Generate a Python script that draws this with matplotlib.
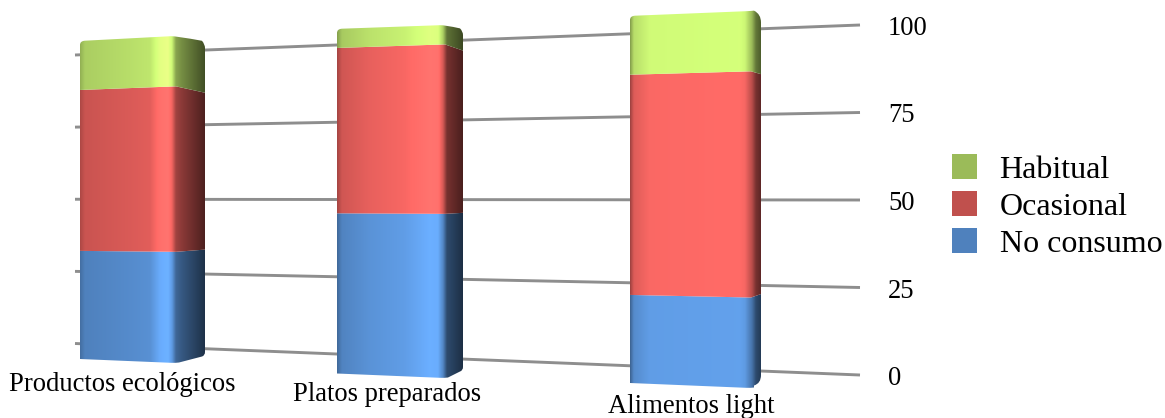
"""Stacked bars in a perspective view, food consumption habits."""

import numpy as np
import matplotlib
matplotlib.use('Agg')
import matplotlib.pyplot as plt
from matplotlib.patches import PathPatch, Rectangle
from matplotlib.path import Path

categories = ['Productos ecológicos', 'Platos preparados', 'Alimentos light']
no_consumo = [34, 46.5, 24]
ocasional = [50.6, 48, 60]
habitual = [15.4, 5.5, 16]
series_names = ['No consumo', 'Ocasional', 'Habitual']
tick_values = [0, 25, 50, 75, 100]

base_colors = {'No consumo': (79, 129, 189),
               'Ocasional': (192, 80, 77),
               'Habitual': (155, 187, 89)}

plt.rcParams['font.family'] = ['Liberation Serif', 'DejaVu Serif']

# corners of each box on the canvas: x left/ridge/right, then y at value 0 and 100
boxes = [
    dict(x=(80, 176, 205), y0=(359, 363, 355), y100=(41, 36, 45), radius=3),
    dict(x=(337, 445, 463), y0=(373.5, 378, 370), y100=(29, 25, 32), radius=3),
    dict(x=(630, 751, 761), y0=(383, 388, 382), y100=(16, 11, 15.5), radius=7),
]

# horizontal shading of each box, (x, brightness) pairs
shading = [
    [(80, 0.85), (85, 1.0), (130, 1.08), (150, 1.12), (160, 1.33), (168, 1.38),
     (172, 1.2), (176, 0.8), (181, 0.7), (205, 0.38)],
    [(337, 0.8), (342, 1.02), (370, 1.14), (405, 1.22), (430, 1.36), (438, 1.34),
     (443, 1.05), (447, 0.58), (463, 0.36)],
    [(630, 0.75), (634, 1.08), (650, 1.22), (740, 1.25), (745, 1.2), (752, 0.9),
     (756, 0.58), (761, 0.45)],
]

# light falls off towards the bottom, so upper segments get a gain per box
segment_gain = [
    [1.0, 1.05, 1.1],
    [1.0, 1.06, 1.06],
    [1.0, 1.07, 1.1],
]

# back wall of the chart
wall_left = (75, 343.5, 55)
wall_right = (860, 375, 25)


def value_y(v, y0, y100):
    return y0 + (y100 - y0) * v / 100


def segment_path(box, v_low, v_high, round_top, round_bottom):
    xs = box['x']
    low = [value_y(v_low, a, b) for a, b in zip(box['y0'], box['y100'])]
    high = [value_y(v_high, a, b) for a, b in zip(box['y0'], box['y100'])]
    r = box['radius']
    verts = [(xs[0], low[0])]
    codes = [Path.MOVETO]

    # left edge going up
    if round_top:
        verts += [(xs[0], high[0] + 4), (xs[0], high[0]), (xs[0] + 5, high[0] - 0.3)]
        codes += [Path.LINETO, Path.CURVE3, Path.CURVE3]
    else:
        verts.append((xs[0], high[0]))
        codes.append(Path.LINETO)

    # top edge, left to right
    if round_top:
        verts += [(xs[1] - 5, high[1] + 0.2), (xs[1], high[1]), (xs[2] - r, high[2] - r * 0.5 + (high[1] - high[2]) * 0.3)]
        codes += [Path.LINETO, Path.CURVE3, Path.CURVE3]
        verts += [(xs[2], high[2] - r * 0.2), (xs[2], high[2] + r)]
        codes += [Path.CURVE3, Path.CURVE3]
    else:
        verts += [(xs[1], high[1]), (xs[2], high[2])]
        codes += [Path.LINETO, Path.LINETO]

    # right edge going down, then the bottom edge back
    if round_bottom:
        verts += [(xs[2], low[2] - r), (xs[2], low[2] + r * 0.2), (xs[2] - r, low[2] + r * 0.5)]
        codes += [Path.LINETO, Path.CURVE3, Path.CURVE3]
        verts += [(xs[1] + 3, low[1] - 0.5), (xs[1], low[1]), (xs[1] - 5, low[1] - 0.2)]
        codes += [Path.LINETO, Path.CURVE3, Path.CURVE3]
    else:
        verts += [(xs[2], low[2]), (xs[1], low[1])]
        codes += [Path.LINETO, Path.LINETO]

    verts.append((xs[0], low[0]))
    codes.append(Path.CLOSEPOLY)
    return Path(verts, codes)


fig = plt.figure(figsize=(11.65, 4.18), dpi=100)
ax = fig.add_axes([0, 0, 1, 1])

for v in tick_values:
    ax.plot([wall_left[0], wall_right[0]],
            [value_y(v, wall_left[1], wall_left[2]), value_y(v, wall_right[1], wall_right[2])],
            color='#8e8e8e', lw=2.1, zorder=1, solid_capstyle='butt')
    ax.text(888, value_y(v, wall_right[1], wall_right[2]) + 3.5, str(v),
            fontsize=19.2, ha='left', va='center', color='black')

stacks = [no_consumo, ocasional, habitual]
for i, box in enumerate(boxes):
    left, right = box['x'][0], box['x'][2]
    columns = np.arange(left, right + 1) + 0.5
    px, factor = zip(*shading[i])
    brightness = np.interp(columns, px, factor)

    bottom = 0
    for j, name in enumerate(series_names):
        top = bottom + stacks[j][i]
        shade = brightness * segment_gain[i][j]
        gradient = np.clip(np.outer(shade, base_colors[name]) / 255, 0, 1)[np.newaxis, :, :]
        im = ax.imshow(gradient, extent=(left, right + 1, 400, 0), aspect='auto',
                       interpolation='bilinear', zorder=2 + j * 0.1)
        clip = PathPatch(segment_path(box, bottom, top, j == 2, j == 0),
                         transform=ax.transData, facecolor='none', edgecolor='none')
        ax.add_patch(clip)
        im.set_clip_path(clip)
        bottom = top

label_spots = [(122, 384.5), (387, 394.5), (691, 406.5)]
for name, (lx, ly) in zip(categories, label_spots):
    ax.text(lx, ly, name, fontsize=19.2, ha='center', va='center', color='black')

legend_rows = [('Habitual', 166.5), ('Ocasional', 203.5), ('No consumo', 240)]
for name, ly in legend_rows:
    swatch = tuple(c / 255 for c in base_colors[name])
    ax.add_patch(Rectangle((952, ly - 12.5), 25, 25, facecolor=swatch, edgecolor='none', zorder=2))
    ax.text(999.5, ly + 4, name, fontsize=23, ha='left', va='center', color='black')

ax.set_xlim(0, 1165)
ax.set_ylim(418, 0)
ax.axis('off')

fig.savefig('out.png', dpi=100)
